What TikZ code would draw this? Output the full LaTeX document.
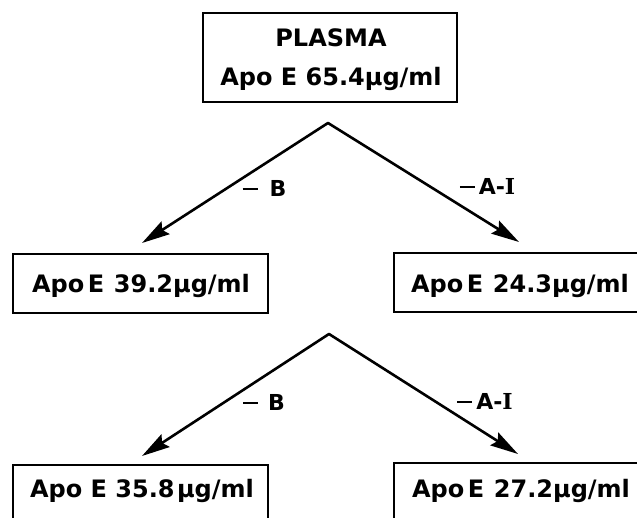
\documentclass[tikz,border=0pt]{standalone}
\usepackage{fontspec}
\setmainfont{DejaVu Sans}
\newfontfamily\serifI{DejaVu Serif}
\usetikzlibrary{arrows.meta}
\newcommand{\ug}{µg/ml}
\newcommand{\mdash}{\rule[6.5pt]{15pt}{2.8pt}}
\begin{document}
\begin{tikzpicture}[x=1pt,y=1pt,
  box/.style={draw, line width=2.4pt, inner sep=0pt},
  txt/.style={font=\fontsize{24}{24}\selectfont\bfseries, inner sep=0pt, anchor=base},
  lab/.style={font=\fontsize{22}{22}\selectfont\bfseries, inner sep=0pt, anchor=base},
  arr/.style={line width=2.6pt, -{Stealth[length=28pt,width=15pt,inset=4pt]}}]
\useasboundingbox (0,0) rectangle (637,518);
\begin{scope}
\clip (0,0) rectangle (637,518);
% boxes
\node[box, minimum width=254pt, minimum height=89pt] (top) at (330,460.5) {};
\node[box, minimum width=255pt, minimum height=59pt] (ml) at (140.5,234.5) {};
\node[box, minimum width=252pt, minimum height=59pt] (mr) at (520,235.5) {};
\node[box, minimum width=255pt, minimum height=80pt] (bl) at (140.5,13) {};
\node[box, minimum width=252pt, minimum height=80pt] (br) at (520,15) {};
% texts
\node[txt] (ttop1) at (331,471) {PLASMA};
\node[txt] (ttop2) at (331,432) {Apo E 65.4\ug};
\node[txt] (tml) at (141,225) {Apo\hspace{0.15em}E\hspace{0.4em}39.2\ug};
\node[txt] (tmr) at (520,225) {Apo\hspace{0.15em}E\hspace{0.4em}24.3\ug};
\node[txt] (tbl) at (142,20) {Apo E 35.8\hspace{0.1em}\ug};
\node[txt] (tbr) at (521,20) {Apo\hspace{0.15em}E\hspace{0.4em}27.2\ug};
% apexes and tips
\coordinate (a1) at (328,395);
\coordinate (l1) at (142,275);
\coordinate (r1) at (519,276);
\coordinate (a2) at (329,184);
\coordinate (l2) at (142,62);
\coordinate (r2) at (518,64);
\draw[arr] (a1) -- (l1);
\draw[arr] (a1) -- (r1);
\draw[arr] (a2) -- (l2);
\draw[arr] (a2) -- (r2);
\fill (a1) circle (1.3pt);
\fill (a2) circle (1.3pt);
% labels
\node[lab] (b1) at (264.5,321) {\mdash\hspace{12pt}B};
\node[lab] (c1) at (487.5,323) {\mdash\hspace{4pt}A-{\serifI I}};
\node[lab] (b2) at (264,107) {\mdash\hspace{10pt}B};
\node[lab] (c2) at (485,108) {\mdash\hspace{4pt}A-{\serifI I}};
\end{scope}
\end{tikzpicture}
\end{document}
